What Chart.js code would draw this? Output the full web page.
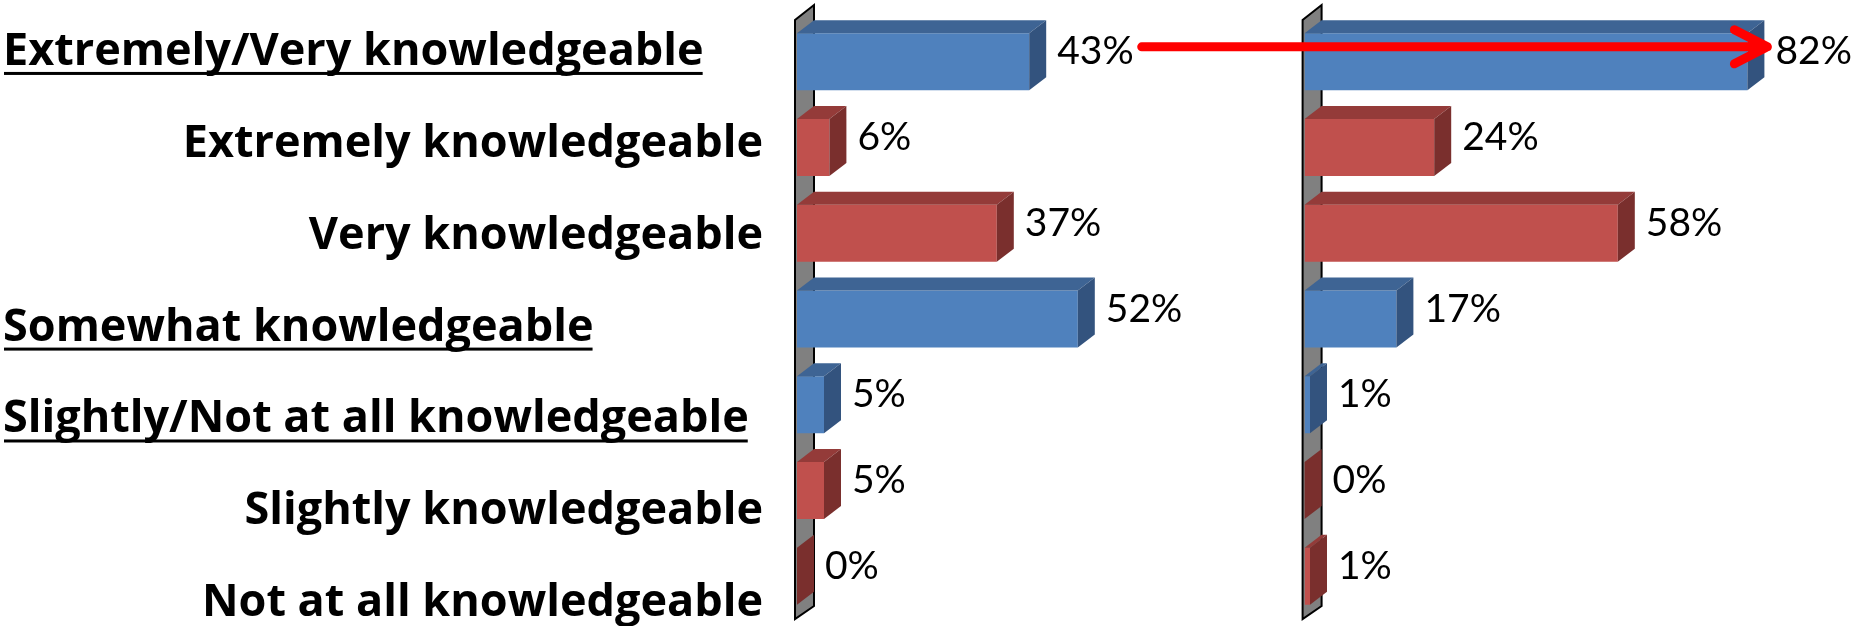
<!DOCTYPE html>
<html>
  <head>
    <meta charset="UTF-8">
    <title>Knowledge</title>
    <script src="https://cdn.jsdelivr.net/npm/chart.js"></script>
    <style>
      html, body { margin: 0; padding: 0; background: #ffffff; }
    </style>
  </head>
  <body>
    <canvas id="knowChart" width="1852" height="626"></canvas>

    <script>
      // Rows (top to bottom) and which of them are the underlined group rows
      const categories = [
        'Extremely/Very knowledgeable',
        'Extremely knowledgeable',
        'Very knowledgeable',
        'Somewhat knowledgeable',
        'Slightly/Not at all knowledgeable',
        'Slightly knowledgeable',
        'Not at all knowledgeable'
      ];
      const isGroup = [true, false, false, true, true, false, false];

      // Percentages, left panel and right panel
      const leftValues = [43, 6, 37, 52, 5, 5, 0];
      const rightValues = [82, 24, 58, 17, 1, 0, 1];

      // Axis extents of the two panels (same % per pixel)
      const leftMax = 94;
      const rightMax = 101;

      const colors = {
        blue:  { front: '#4F81BD', top: '#3E6494', side: '#33537E' },
        red:   { front: '#C0504D', top: '#943B39', side: '#7A2F2D' }
      };
      const depth = { dx: 17, dy: -13 };

      const rowColor = i => isGroup[i] ? colors.blue : colors.red;

      // gray side wall + 3D faces + value labels
      const bar3d = {
        id: 'bar3d',
        beforeDatasetsDraw(chart) {
          const ctx = chart.ctx;
          const { top, bottom } = chart.chartArea;
          ['x1', 'x2'].forEach(id => {
            const x0 = chart.scales[id].getPixelForValue(0) - 2;
            ctx.save();
            ctx.beginPath();
            ctx.moveTo(x0, bottom);
            ctx.lineTo(x0, top + 1);
            ctx.lineTo(x0 + 19, top - 14);
            ctx.lineTo(x0 + 19, bottom - 13);
            ctx.closePath();
            ctx.fillStyle = '#808080';
            ctx.fill();
            ctx.lineWidth = 2;
            ctx.strokeStyle = '#000000';
            ctx.stroke();
            ctx.restore();
          });
        },
        afterDatasetsDraw(chart) {
          const ctx = chart.ctx;
          chart.data.datasets.forEach((ds, di) => {
            const meta = chart.getDatasetMeta(di);
            meta.data.forEach((el, i) => {
              const { x, y, base, height } = el.getProps(['x', 'y', 'base', 'height'], true);
              const t = y - height / 2;
              const b = y + height / 2;
              const c = rowColor(i);
              ctx.save();
              // top face
              ctx.beginPath();
              ctx.moveTo(base, t);
              ctx.lineTo(x, t);
              ctx.lineTo(x + depth.dx, t + depth.dy);
              ctx.lineTo(base + depth.dx, t + depth.dy);
              ctx.closePath();
              ctx.fillStyle = c.top;
              ctx.fill();
              // right face
              ctx.beginPath();
              ctx.moveTo(x, t);
              ctx.lineTo(x + depth.dx, t + depth.dy);
              ctx.lineTo(x + depth.dx, b + depth.dy);
              ctx.lineTo(x, b);
              ctx.closePath();
              ctx.fillStyle = c.side;
              ctx.fill();
              // value label
              ctx.font = '39px Lato';
              ctx.fillStyle = '#000000';
              ctx.textAlign = 'left';
              ctx.textBaseline = 'middle';
              ctx.fillText(ds.data[i] + '%', x + depth.dx + 11, y - 10);
              ctx.restore();
            });
          });
        }
      };

      // row labels on the left, group rows underlined and left aligned
      const rowLabels = {
        id: 'rowLabels',
        afterDraw(chart) {
          const ctx = chart.ctx;
          const yl = chart.scales.yl;
          const right = chart.chartArea.left - 34;
          ctx.save();
          ctx.font = 'bold 45px "Open Sans"';
          ctx.fillStyle = '#000000';
          ctx.textBaseline = 'alphabetic';
          categories.forEach((label, i) => {
            const yb = yl.getPixelForValue(i);
            if (isGroup[i]) {
              ctx.textAlign = 'left';
              ctx.fillText(label, 3, yb);
              const w = ctx.measureText(label).width;
              ctx.fillRect(4, yb + 7, w - 2, 3);
            } else {
              ctx.textAlign = 'right';
              ctx.fillText(label, right, yb);
            }
          });
          ctx.restore();
        }
      };

      // red arrow from the first left label to the first right bar
      const arrow = {
        id: 'arrow',
        afterDraw(chart) {
          const ctx = chart.ctx;
          const l = chart.getDatasetMeta(0).data[0];
          const r = chart.getDatasetMeta(1).data[0];
          ctx.save();
          ctx.font = '39px Lato';
          const x1 = l.x + depth.dx + 11 + ctx.measureText(leftValues[0] + '%').width + 8;
          const x2 = r.x + depth.dx + 3;
          const y = l.y - 15;
          ctx.strokeStyle = '#FF0000';
          ctx.lineWidth = 9;
          ctx.lineCap = 'round';
          ctx.lineJoin = 'round';
          ctx.beginPath();
          ctx.moveTo(x1, y);
          ctx.lineTo(x2, y);
          ctx.moveTo(x2 - 33, y - 17);
          ctx.lineTo(x2, y);
          ctx.lineTo(x2 - 33, y + 17);
          ctx.stroke();
          ctx.restore();
        }
      };

      const ctx = document.getElementById('knowChart').getContext('2d');

      new Chart(ctx, {
        type: 'bar',
        data: {
          labels: categories,
          datasets: [
            {
              label: 'Left',
              data: leftValues,
              xAxisID: 'x1',
              yAxisID: 'y',
              backgroundColor: categories.map((c, i) => rowColor(i).front),
              borderWidth: 0,
              grouped: false,
              barPercentage: 0.665,
              categoryPercentage: 1
            },
            {
              label: 'Right',
              data: rightValues,
              xAxisID: 'x2',
              yAxisID: 'y',
              backgroundColor: categories.map((c, i) => rowColor(i).front),
              borderWidth: 0,
              grouped: false,
              barPercentage: 0.665,
              categoryPercentage: 1
            }
          ]
        },
        options: {
          indexAxis: 'y',
          responsive: false,
          animation: false,
          devicePixelRatio: 1,
          layout: {
            padding: { left: 797, right: 2, top: 19, bottom: 7 }
          },
          scales: {
            y: {
              type: 'category',
              display: false,
              offset: true
            },
            // hidden axis that only places the row labels
            yl: {
              type: 'linear',
              axis: 'y',
              display: false,
              offset: false,
              bounds: 'data',
              reverse: true,
              min: -0.5,
              max: 6.03
            },
            x1: {
              type: 'linear',
              axis: 'x',
              position: 'bottom',
              stack: 'panels',
              stackWeight: leftMax,
              min: 0,
              max: leftMax,
              display: false
            },
            x2: {
              type: 'linear',
              axis: 'x',
              position: 'bottom',
              stack: 'panels',
              stackWeight: rightMax,
              min: 0,
              max: rightMax,
              display: false
            }
          },
          plugins: {
            legend: { display: false },
            tooltip: { enabled: false }
          }
        },
        plugins: [bar3d, rowLabels, arrow]
      });
    </script>
  </body>
</html>
